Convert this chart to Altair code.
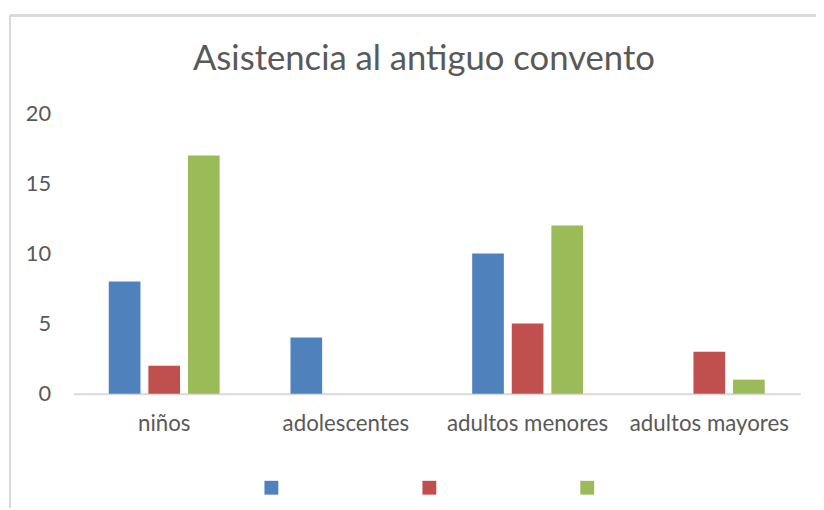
import altair as alt
import pandas as pd

categories = ["niños", "adolescentes", "adultos menores", "adultos mayores"]
series = ["Serie1", "Serie2", "Serie3"]
serie1 = [8, 4, 10, 0]
serie2 = [2, 0, 5, 3]
serie3 = [17, 0, 12, 1]
colors = ["#4F81BD", "#C0504D", "#9BBB59"]
y_ticks = [0, 5, 10, 15, 20]

rows = []
for s, vals in zip(series, [serie1, serie2, serie3]):
    for c, v in zip(categories, vals):
        rows.append({"categoria": c, "serie": s, "valor": v})
df = pd.DataFrame(rows)

FONT = "Lato"
GRAY = "#595959"

bars = alt.Chart(df).mark_bar().encode(
    x=alt.X("categoria:N", sort=categories, title=None,
            scale=alt.Scale(paddingInner=0.39, paddingOuter=0.195),
            axis=alt.Axis(labelAngle=0, ticks=False, domain=True, domainColor="#d9d9d9",
                          domainWidth=2, labelPadding=19, labelFontSize=22.5,
                          labelColor=GRAY, labelFont=FONT)),
    xOffset=alt.XOffset("serie:N", sort=series,
                        scale=alt.Scale(paddingInner=0.2, paddingOuter=0.0)),
    y=alt.Y("valor:Q", title=None,
            scale=alt.Scale(domain=[0, 20], nice=False),
            axis=alt.Axis(values=y_ticks, ticks=False, domain=False, grid=False,
                          labelPadding=23, labelFontSize=22, labelColor=GRAY,
                          labelFont=FONT)),
    color=alt.Color("serie:N", sort=series,
                    scale=alt.Scale(domain=series, range=colors),
                    legend=alt.Legend(title=None, orient="none", legendX=193, legendY=371,
                                      direction="horizontal", symbolType="square",
                                      symbolSize=196, symbolStrokeWidth=0,
                                      labelExpr="''", labelOffset=0,
                                      columnPadding=145.5)),
)

frame_top = alt.Chart(df).mark_rule(color="#d9d9d9", strokeWidth=1.5).encode(
    x=alt.value(-64), x2=alt.value(750), y=alt.value(-99))
frame_left = alt.Chart(df).mark_rule(color="#d9d9d9", strokeWidth=1.5).encode(
    x=alt.value(-64), y=alt.value(-99), y2=alt.value(398))

chart = alt.layer(frame_top, frame_left, bars).properties(
    width=734, height=283,
    padding={"left": 66, "top": 104, "right": 16, "bottom": 115},
    autosize=alt.AutoSizeParams(type="none"),
    title=alt.TitleParams("Asistencia al antiguo convento", fontSize=35, font=FONT,
                          fontWeight="normal", color=GRAY, anchor="middle",
                          dx=-13, offset=-98, baseline="bottom"),
).configure_view(stroke=None)

chart.save("out.html", embed_options={"renderer": "svg", "actions": False})
